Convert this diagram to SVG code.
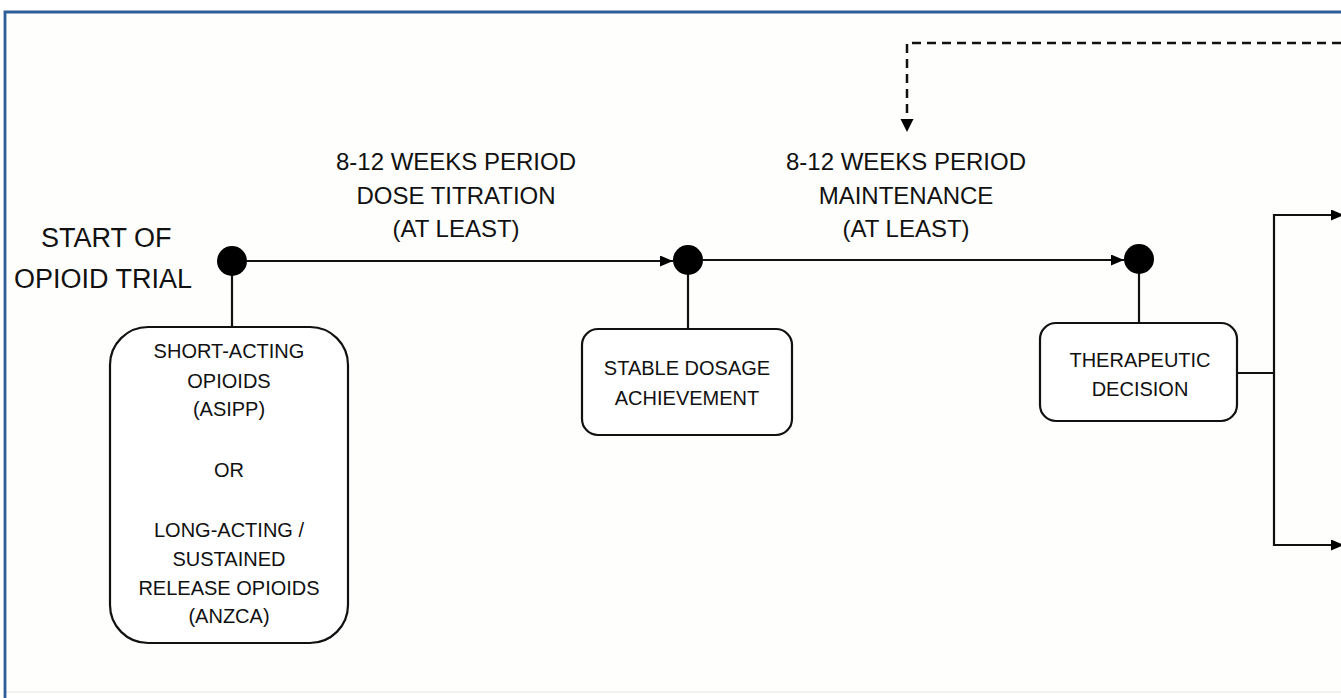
<svg xmlns="http://www.w3.org/2000/svg" width="1341" height="698" viewBox="0 0 1341 698">
  <style>
    .txt { font-family: "Liberation Sans", Arial, sans-serif; fill: #111; text-anchor: middle; }
    .big { font-size: 27px; text-anchor: start; }
    .lbl { font-size: 24px; }
    .nt { font-size: 20px; }
    .box { fill: #fff; stroke: #111; stroke-width: 2.2; }
    .ln { fill: none; stroke: #111; stroke-width: 2.2; }
    .dash { fill: none; stroke: #111; stroke-width: 2.5; stroke-dasharray: 9 6; }
    .dot { fill: #000; }
  </style>
  <defs>
    <marker id="arrow" viewBox="0 0 13 11" refX="13" refY="5.5" markerWidth="13" markerHeight="11" markerUnits="userSpaceOnUse" orient="auto">
      <path d="M0,0 L13,5.5 L0,11 z" fill="#000"/>
    </marker>
  </defs>

  <!-- frame -->
  <rect x="0" y="0" width="1341" height="698" fill="#fff"/>
  <rect x="6" y="12" width="1335" height="680" fill="#fefefc"/>
  <line x1="6" y1="692" x2="1341" y2="692" stroke="#e8e8e8" stroke-width="1"/>
  <path d="M5,698 V12 H1341" fill="none" stroke="#2f5d98" stroke-width="2.8"/>

  <!-- title -->
  <g id="start-label">
    <text class="txt big" x="41" y="247">START OF</text>
    <text class="txt big" x="14" y="288">OPIOID TRIAL</text>
  </g>

  <!-- period labels -->
  <g id="titration-label">
    <text class="txt lbl" x="456" y="170">8-12 WEEKS PERIOD</text>
    <text class="txt lbl" x="456" y="204">DOSE TITRATION</text>
    <text class="txt lbl" x="456" y="237">(AT LEAST)</text>
  </g>
  <g id="maintenance-label">
    <text class="txt lbl" x="906" y="170">8-12 WEEKS PERIOD</text>
    <text class="txt lbl" x="906" y="204">MAINTENANCE</text>
    <text class="txt lbl" x="906" y="237">(AT LEAST)</text>
  </g>

  <!-- connectors -->
  <g id="connectors">
    <line class="ln" x1="247" y1="261" x2="673" y2="261" marker-end="url(#arrow)"/>
    <line class="ln" x1="703" y1="260" x2="1124" y2="260" marker-end="url(#arrow)"/>
    <line class="ln" x1="232" y1="261" x2="232" y2="327"/>
    <line class="ln" x1="688" y1="260" x2="688" y2="329"/>
    <line class="ln" x1="1139" y1="259" x2="1139" y2="323"/>
    <path class="ln" d="M1237,373 H1274"/>
    <path class="ln" d="M1341,215 H1274 V545 H1341"/>
    <line class="ln" x1="1274" y1="215" x2="1344" y2="215" marker-end="url(#arrow)"/>
    <line class="ln" x1="1274" y1="545" x2="1344" y2="545" marker-end="url(#arrow)"/>
    <path class="dash" d="M1341,43 H907 V120"/>
    <path d="M900.5,119 L913.5,119 L907,132 z" fill="#000"/>
  </g>

  <!-- timeline points -->
  <g id="point-start"><circle class="dot" cx="232" cy="261" r="15"/></g>
  <g id="point-stable"><circle class="dot" cx="688" cy="260" r="15"/></g>
  <g id="point-decision"><circle class="dot" cx="1139" cy="259" r="15"/></g>

  <!-- nodes -->
  <g id="node-opioids">
    <rect class="box" x="110" y="327" width="238" height="316" rx="38" ry="38"/>
    <text class="txt nt" x="229" y="358">SHORT-ACTING</text>
    <text class="txt nt" x="229" y="388">OPIOIDS</text>
    <text class="txt nt" x="229" y="416">(ASIPP)</text>
    <text class="txt nt" x="229" y="477">OR</text>
    <text class="txt nt" x="229" y="537">LONG-ACTING /</text>
    <text class="txt nt" x="229" y="566">SUSTAINED</text>
    <text class="txt nt" x="229" y="595">RELEASE OPIOIDS</text>
    <text class="txt nt" x="229" y="623">(ANZCA)</text>
  </g>
  <g id="node-stable">
    <rect class="box" x="582" y="329" width="210" height="106" rx="16" ry="16"/>
    <text class="txt nt" x="687" y="375">STABLE DOSAGE</text>
    <text class="txt nt" x="687" y="405">ACHIEVEMENT</text>
  </g>
  <g id="node-decision">
    <rect class="box" x="1040" y="323" width="197" height="98" rx="16" ry="16"/>
    <text class="txt nt" x="1140" y="367">THERAPEUTIC</text>
    <text class="txt nt" x="1140" y="396">DECISION</text>
  </g>
</svg>
